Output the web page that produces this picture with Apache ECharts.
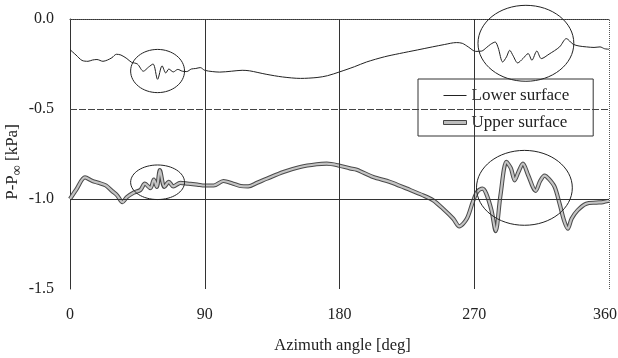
<!DOCTYPE html>
<html>
<head>
<meta charset="utf-8">
<script src="https://cdn.jsdelivr.net/npm/echarts@6/dist/echarts.min.js"></script>
<style>
  html, body { margin: 0; padding: 0; background: #fff; }
  #main { width: 618px; height: 358px; }
</style>
</head>
<body>
<div id="main"></div>
<script>
var myChart = echarts.init(document.getElementById('main'));

// lower surface, pressure vs azimuth
var lowerDeg = [0, 4, 8, 12, 15, 18, 22, 25, 28, 31, 34, 38, 41, 45, 49, 52.5, 55.5, 58.5, 61.5, 64, 66, 69, 72, 75, 78, 81, 84, 87, 90, 95, 100, 108, 115, 120, 131, 142, 154, 165, 172, 180, 190, 198, 210, 220, 232, 242, 250, 258, 262, 266, 271, 275, 278, 281, 284, 286, 289, 291.5, 293.7, 296, 299, 302.5, 306, 308.5, 311.8, 314.8, 320, 327, 331.5, 336, 340, 345, 350, 354, 357, 360];
var lowerP = [-0.17, -0.2, -0.23, -0.235, -0.228, -0.225, -0.235, -0.228, -0.215, -0.196, -0.2, -0.22, -0.24, -0.25, -0.29, -0.267, -0.25, -0.335, -0.26, -0.3, -0.278, -0.294, -0.28, -0.29, -0.292, -0.278, -0.275, -0.27, -0.285, -0.292, -0.295, -0.29, -0.285, -0.288, -0.307, -0.322, -0.33, -0.325, -0.315, -0.294, -0.265, -0.239, -0.21, -0.192, -0.172, -0.155, -0.142, -0.131, -0.135, -0.155, -0.18, -0.178, -0.16, -0.14, -0.128, -0.16, -0.239, -0.211, -0.174, -0.205, -0.244, -0.22, -0.192, -0.229, -0.178, -0.22, -0.195, -0.155, -0.109, -0.14, -0.15, -0.155, -0.158, -0.155, -0.165, -0.168];

// upper surface
var upperDeg = [0, 4, 10, 15, 19, 24, 28, 31.5, 35, 38, 42.5, 47, 50, 53.7, 56, 58, 60, 63, 66, 69, 73.7, 79, 85, 90, 96, 102.5, 109, 114, 119, 125, 131.5, 142.5, 153.7, 164.8, 171.5, 179, 187, 191.5, 202.5, 213.7, 224.8, 235.9, 242.5, 249, 256, 260, 265, 269, 272, 275.5, 278, 281.5, 284.3, 287.5, 291.5, 294.5, 297, 299.5, 302.5, 306, 311, 314, 317, 320, 323.7, 327, 330, 332.5, 335, 339, 344.8, 351.5, 356, 360];
var upperP = [-1.0, -0.95, -0.88, -0.9, -0.91, -0.925, -0.955, -0.98, -1.017, -0.99, -0.965, -0.95, -0.915, -0.94, -0.892, -0.933, -0.84, -0.933, -0.905, -0.93, -0.91, -0.915, -0.92, -0.925, -0.925, -0.9, -0.915, -0.928, -0.93, -0.91, -0.887, -0.85, -0.822, -0.807, -0.804, -0.813, -0.83, -0.837, -0.878, -0.905, -0.942, -0.98, -1.007, -1.053, -1.11, -1.152, -1.11, -1.017, -0.96, -0.942, -0.97, -1.063, -1.178, -0.98, -0.794, -0.83, -0.896, -0.85, -0.804, -0.868, -0.955, -0.9, -0.87, -0.89, -0.933, -1.026, -1.12, -1.165, -1.11, -1.063, -1.026, -1.02, -1.017, -1.01];

// circled regions: centre angle, centre pressure, half width [deg], half height [kPa]
var circleDeg = [58.5, 58.5, 304.5, 303.5];
var circleP = [-0.289, -0.907, -0.135, -0.938];
var circleHalfDeg = [18, 18, 32, 32];
var circleHalfP = [0.12, 0.096, 0.211, 0.208];

function pairs(xs, ys) {
  return xs.map(function (x, i) { return [x, ys[i]]; });
}

var serif = '"Liberation Serif", "DejaVu Serif", serif';
var ink = '#222';

var option = {
  animation: false,
  backgroundColor: '#fff',
  grid: { left: 70, right: 9, top: 19, bottom: 69, outerBoundsMode: 'none', containLabel: false },
  legend: {
    orient: 'vertical',
    left: 418,
    top: 79,
    align: 'left',
    backgroundColor: '#fff',
    borderColor: '#333',
    borderWidth: 1,
    borderRadius: 0,
    padding: [8, 24, 5, 25],
    itemWidth: 23,
    itemHeight: 4,
    itemGap: 10,
    textStyle: { fontFamily: serif, fontSize: 17, color: ink },
    data: [
      { name: 'Lower surface', icon: 'path://M0,0H23V1H0Z', itemStyle: { color: '#222', borderWidth: 0 } },
      { name: 'Upper surface', icon: 'rect', itemStyle: { color: '#bdbdbd', borderColor: '#444', borderWidth: 1 } }
    ]
  },
  xAxis: {
    type: 'value',
    min: 0, max: 360, interval: 90,
    name: 'Azimuth angle [deg]',
    nameLocation: 'middle',
    nameGap: 48,
    nameTextStyle: { fontFamily: serif, fontSize: 16.5, color: ink, padding: [0, 0, 0, 6] },
    axisLine: { show: true, lineStyle: { color: '#333', width: 1 } },
    axisTick: { show: false },
    axisLabel: {
      fontFamily: serif, fontSize: 16, color: ink, margin: 18,
      formatter: function (v) { return v === 360 ? '{r|360}' : String(v); },
      rich: { r: { fontFamily: serif, fontSize: 16, color: ink, padding: [0, 8, 0, 0] } }
    },
    splitLine: { show: false }
  },
  yAxis: {
    type: 'value',
    min: -1.5, max: 0, interval: 0.5,
    name: '{a|P-P}{s|∞}{a| [kPa]}',
    nameLocation: 'middle',
    nameGap: 46,
    nameMoveOverlap: false,
    nameTextStyle: {
      fontFamily: serif, fontSize: 17, color: ink, padding: [0, 16, 0, 0],
      rich: {
        a: { fontFamily: serif, fontSize: 17, color: ink, lineHeight: 22, verticalAlign: 'middle' },
        s: { fontFamily: serif, fontSize: 14, color: ink, lineHeight: 22, verticalAlign: 'bottom' }
      }
    },
    axisLine: { show: true, lineStyle: { color: '#333', width: 1 } },
    axisTick: { show: false },
    axisLabel: {
      fontFamily: serif, fontSize: 16, color: ink, margin: 16,
      formatter: function (v) { return v.toFixed(1); }
    },
    splitLine: { show: false }
  },
  series: [
    {
      name: 'Lower surface',
      type: 'line',
      data: pairs(lowerDeg, lowerP),
      smooth: 0.3,
      symbol: 'none',
      itemStyle: { color: '#222' },
      lineStyle: { color: '#222', width: 1 },
      markLine: {
        silent: true,
        symbol: 'none',
        label: { show: false },
        lineStyle: { color: '#333', width: 1, type: 'solid' },
        data: [
          { yAxis: 0, lineStyle: { type: 'dotted', color: '#555' } },
          { yAxis: -0.5, lineStyle: { type: [7, 2], color: '#444' } },
          { yAxis: -1.0 },
          { xAxis: 90 },
          { xAxis: 180 },
          { xAxis: 270 },
          { xAxis: 360, lineStyle: { type: 'dotted', color: '#555' } }
        ]
      }
    },
    {
      name: 'Upper surface',
      type: 'line',
      data: pairs(upperDeg, upperP),
      smooth: 0.3,
      symbol: 'none',
      itemStyle: { color: '#444' },
      lineStyle: { color: '#4a4a4a', width: 4.2 }
    },
    {
      name: 'Upper core',
      type: 'line',
      data: pairs(upperDeg, upperP),
      smooth: 0.3,
      symbol: 'none',
      itemStyle: { color: '#c4c4c4' },
      lineStyle: { color: '#c4c4c4', width: 2.2 }
    },
    {
      name: 'Circles',
      type: 'custom',
      clip: false,
      data: circleDeg.map(function (d, i) { return [d, circleP[i], circleHalfDeg[i], circleHalfP[i]]; }),
      encode: { x: 0, y: 1 },
      renderItem: function (params, api) {
        var c = api.coord([api.value(0), api.value(1)]);
        var s = api.size([api.value(2), api.value(3)]);
        return {
          type: 'ellipse',
          shape: { cx: c[0], cy: c[1], rx: s[0], ry: s[1] },
          style: { fill: 'none', stroke: '#222', lineWidth: 1 }
        };
      },
      z: 5
    }
  ]
};
myChart.setOption(option);
</script>
</body>
</html>
